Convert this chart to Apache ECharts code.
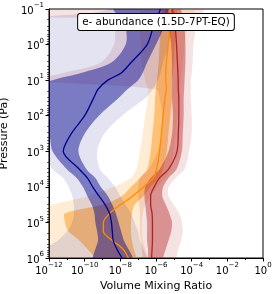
<!DOCTYPE html>
<html><head><meta charset="utf-8">
<script src="https://cdn.jsdelivr.net/npm/echarts@6/dist/echarts.min.js"></script>
<style>html,body{margin:0;padding:0;background:#fff}#c{width:274px;height:294px}</style>
</head><body><div id="c"></div>
<script>
// Pressure levels (Pa)
const pressure = [0.1, 0.16, 0.2, 0.32, 1, 3.2, 6.3, 10, 18, 32, 100, 320, 1000, 3200, 5600, 1e4, 1.8e4, 3.2e4, 5.6e4, 1e5, 1.8e5, 3.2e5, 5.6e5, 1e6];

// Values below are log10(volume mixing ratio) at each pressure level
// Blue species
const blueMedian = [-5.75, -5.9, -5.98, -6.15, -6.5, -7.4, -7.95, -8.7, -9.25, -9.5, -10.0, -10.75, -11.2, -10.3, -9.85, -9.55, -9.2, -8.85, -8.6, -8.5, -8.45, -8.4, -8.2, -7.9];
const blue1Lo = [-8.4, -8.1, -7.95, -7.7, -7.7, -8.5, -10.2, -11.8, -13, -13, -12.6, -12.0, -11.8, -11.0, -10.45, -10.1, -9.85, -9.6, -9.45, -9.4, -9.3, -9.25, -9.4, -9.55];
const blue1Hi = [-5.3, -5.4, -5.45, -5.55, -6.0, -6.5, -6.75, -7.0, -7.6, -8.1, -9.2, -10.0, -10.35, -9.9, -9.4, -9.1, -8.7, -8.45, -8.25, -8.1, -7.95, -7.8, -7.55, -7.3];
const blue2Lo = [-8.6, -11.9, -13, -13, -13, -13, -13, -13, -13, -13, -13, -13, -12.4, -11.8, -11.2, -10.9, -10.7, -10.6, -10.6, -10.7, -11.0, -11.5, -12.3, -13];
const blue2Hi = [-5.0, -5.0, -5.05, -5.1, -5.3, -5.6, -5.75, -5.9, -6.2, -6.6, -7.9, -8.9, -9.3, -9.15, -8.7, -8.3, -8.0, -7.7, -7.4, -7.2, -7.0, -6.9, -6.7, -6.5];
// Orange species
const orangeMedian = [-5.2, -5.22, -5.23, -5.25, -5.32, -5.42, -5.45, -5.45, -5.42, -5.5, -5.6, -5.7, -5.8, -5.97, -6.15, -6.7, -7.3, -8.0, -8.6, -8.95, -8.95, -8.45, -7.85, -7.55];
const orange1Lo = [-5.7, -5.72, -5.73, -5.75, -5.8, -5.85, -5.9, -5.95, -6.0, -6.05, -6.1, -6.2, -6.3, -6.5, -6.9, -7.4, -7.9, -9.0, -11.1, -11.1, -10.9, -10.3, -9.85, -9.45];
const orange1Hi = [-4.8, -4.83, -4.85, -4.9, -4.95, -5.0, -5.05, -5.1, -5.1, -5.1, -5.2, -5.3, -5.4, -5.6, -5.85, -6.3, -6.7, -7.2, -7.35, -7.4, -7.4, -7.35, -7.25, -7.1];
const orange2Lo = [-6.9, -6.9, -6.9, -6.9, -6.85, -6.8, -6.7, -6.6, -6.45, -6.45, -6.6, -6.75, -6.9, -7.1, -7.4, -8.4, -9.8, -11.8, -13, -13, -13, -13, -13, -13];
const orange2Hi = [-3.8, -3.9, -4.0, -4.2, -4.4, -4.5, -4.55, -4.6, -4.65, -4.7, -4.8, -4.9, -5.0, -5.2, -5.5, -5.9, -6.3, -6.6, -6.75, -6.8, -6.8, -6.75, -6.6, -6.5];
// Red species
const redMedian = [-5.1, -5.0, -4.97, -4.92, -4.85, -4.8, -4.77, -4.76, -4.75, -4.72, -4.72, -4.75, -4.82, -5.3, -5.8, -6.1, -6.3, -6.3, -6.22, -6.2, -6.2, -6.2, -6.22, -6.25];
const red1Lo = [-5.5, -5.4, -5.35, -5.3, -5.15, -5.1, -5.1, -5.1, -5.1, -5.1, -5.05, -5.1, -5.3, -5.8, -6.3, -6.6, -6.65, -6.6, -6.55, -6.5, -6.5, -6.5, -6.45, -6.45];
const red1Hi = [-4.6, -4.5, -4.45, -4.4, -4.35, -4.35, -4.38, -4.4, -4.42, -4.45, -4.45, -4.5, -4.55, -4.85, -5.3, -5.6, -5.65, -5.45, -5.25, -5.1, -5.15, -5.3, -5.45, -5.6];
const red2Lo = [-13, -13, -8.3, -8.3, -8.35, -9.1, -11.2, -12.8, -6.0, -5.8, -5.65, -5.7, -5.9, -6.4, -6.9, -7.0, -7.0, -6.95, -6.9, -6.9, -6.9, -6.85, -6.8, -6.75];
const red2Hi = [-3.3, -3.45, -3.55, -3.75, -3.9, -3.95, -4.0, -4.05, -4.05, -4.05, -4.0, -4.0, -4.15, -4.4, -4.9, -5.3, -5.3, -5.0, -4.7, -4.55, -4.5, -4.6, -4.75, -4.85];

const xMajorTicks = [1e-12, 1e-10, 1e-8, 1e-6, 1e-4, 1e-2, 1];
const xMinorTicks = [1e-11, 1e-9, 1e-7, 1e-5, 1e-3, 1e-1];
const yMajorTicks = [0.1, 1, 10, 100, 1e3, 1e4, 1e5, 1e6];
const yMinorTicks = [];
for (let e = -1; e < 6; e++) for (let m = 2; m <= 9; m++) yMinorTicks.push(m * Math.pow(10, e));

const boxLabel = 'e- abundance (1.5D-7PT-EQ)';
const xName = 'Volume Mixing Ratio';
const yName = 'Pressure (Pa)';

const FONT = 'DejaVu Sans';
function sup(v) {
  const e = Math.round(Math.log10(v));
  return '{b|10}{s|' + (e < 0 ? '\u2212' : '') + Math.abs(e) + '}';
}
const rich = {
  b: {fontSize: 10, fontFamily: FONT, color: '#000', lineHeight: 14, verticalAlign: 'bottom'},
  s: {fontSize: 7, fontFamily: FONT, color: '#000', lineHeight: 7, verticalAlign: 'top'}
};

function bandSeries(lo, hi, color) {
  return {
    type: 'custom', coordinateSystem: 'cartesian2d', silent: true, animation: false,
    data: [[1e-6, 1]],
    renderItem: function (params, api) {
      const n = pressure.length;
      const pts = [];
      pts.push(api.coord([Math.pow(10, lo[0]), pressure[0] / 3]));
      for (let i = 0; i < n; i++) pts.push(api.coord([Math.pow(10, lo[i]), pressure[i]]));
      pts.push(api.coord([Math.pow(10, lo[n - 1]), pressure[n - 1] * 3]));
      pts.push(api.coord([Math.pow(10, hi[n - 1]), pressure[n - 1] * 3]));
      for (let i = n - 1; i >= 0; i--) pts.push(api.coord([Math.pow(10, hi[i]), pressure[i]]));
      pts.push(api.coord([Math.pow(10, hi[0]), pressure[0] / 3]));
      const cs = params.coordSys;
      return {
        type: 'polygon', shape: {points: pts, smooth: 0.3},
        style: {fill: color},
        clipPath: {type: 'rect', shape: {x: cs.x, y: cs.y, width: cs.width, height: cs.height}}
      };
    }
  };
}
function lineSeries(vals, color) {
  return {
    type: 'line', symbol: 'none', smooth: 0.3, animation: false, silent: true, clip: true,
    data: vals.map((v, i) => [Math.pow(10, v), pressure[i]]),
    lineStyle: {color: color, width: 1.3}
  };
}

const chart = echarts.init(document.getElementById('c'), null, {renderer: 'canvas'});
chart.setOption({
  animation: false,
  textStyle: {fontFamily: FONT},
  grid: {left: 49, top: 9, right: 11, bottom: 36, show: true, borderColor: '#000', borderWidth: 1, outerBoundsMode: 'none', containLabel: false},
  xAxis: [{
    type: 'log', logBase: 10, min: 1e-12, max: 1, position: 'bottom',
    axisLine: {show: true, onZero: false, lineStyle: {color: '#000', width: 1}},
    axisTick: {show: true, length: 3.5, customValues: xMajorTicks, lineStyle: {color: '#000'}},
    axisLabel: {customValues: xMajorTicks, formatter: sup, rich: rich, margin: 4, color: '#000'},
    splitLine: {show: false}, minorTick: {show: false},
    name: xName, nameLocation: 'middle', nameGap: 14,
    nameTextStyle: {fontSize: 11, fontFamily: FONT, color: '#000'}
  }, {
    type: 'log', logBase: 10, min: 1e-12, max: 1, position: 'bottom',
    axisLine: {show: false}, axisLabel: {show: false}, splitLine: {show: false},
    axisTick: {show: true, length: 2, customValues: xMinorTicks, lineStyle: {color: '#000'}}
  }],
  yAxis: [{
    type: 'log', logBase: 10, min: 0.1, max: 1e6, inverse: true, position: 'left',
    axisLine: {show: true, onZero: false, lineStyle: {color: '#000', width: 1}},
    axisTick: {show: true, length: 3.5, customValues: yMajorTicks, lineStyle: {color: '#000'}},
    axisLabel: {customValues: yMajorTicks, formatter: sup, rich: rich, margin: 5, color: '#000'},
    splitLine: {show: false},
    name: yName, nameLocation: 'middle', nameGap: 31,
    nameTextStyle: {fontSize: 11, fontFamily: FONT, color: '#000'}
  }, {
    type: 'log', logBase: 10, min: 0.1, max: 1e6, inverse: true, position: 'left',
    axisLine: {show: false}, axisLabel: {show: false}, splitLine: {show: false},
    axisTick: {show: true, length: 2, customValues: yMinorTicks, lineStyle: {color: '#000', width: 0.6}}
  }],
  series: [
    bandSeries(orange2Lo, orange2Hi, 'rgba(255,140,0,0.17)'),
    bandSeries(orange1Lo, orange1Hi, 'rgba(255,140,0,0.45)'),
    bandSeries(red2Lo, red2Hi, 'rgba(178,34,34,0.13)'),
    bandSeries(red1Lo, red1Hi, 'rgba(178,34,34,0.42)'),
    bandSeries(blue2Lo, blue2Hi, 'rgba(0,0,139,0.11)'),
    bandSeries(blue1Lo, blue1Hi, 'rgba(0,0,139,0.46)'),
    lineSeries(orangeMedian, '#ff8c00'),
    lineSeries(redMedian, '#b22222'),
    lineSeries(blueMedian, '#00008b')
  ],
  graphic: [{
    type: 'text', x: 156, y: 14, z: 100,
    style: {text: boxLabel, font: '10.4px "DejaVu Sans"', fill: '#000', align: 'center', verticalAlign: 'top',
      backgroundColor: '#fff', borderColor: '#000', borderWidth: 1, padding: [3, 4, 3, 4], borderRadius: 2}
  }]
});
</script></body></html>
